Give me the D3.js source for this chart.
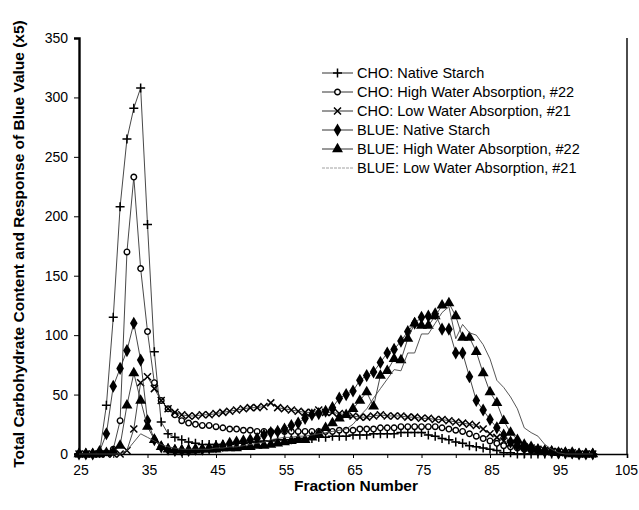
<!DOCTYPE html>
<html>
<head>
<meta charset="utf-8">
<script src="https://cdn.jsdelivr.net/npm/d3@7"></script>
<style>
  body { margin: 0; background: #fff; }
  svg { display: block; font-family: "Liberation Sans", Arial, sans-serif; }
</style>
</head>
<body>
<svg id="chart" width="639" height="510"></svg>
<script>
// fraction numbers (x)
const fractions = [25,26,27,28,29,30,31,32,33,34,35,36,37,38,39,40,41,42,43,44,45,46,47,48,49,50,
  51,52,53,54,55,56,57,58,59,60,61,62,63,64,65,66,67,68,69,70,71,72,73,74,75,76,77,78,79,80,
  81,82,83,84,85,86,87,88,89,90,91,92,93,94,95,96,97,98,99,100];

const choNative = [0,0,0,1,41,115,208,265,291,308,193,86,27,17,14,12,10,9,8,8,8,8,8,9,9,10,
  10,11,11,12,12,12,13,13,13,14,14,15,15,15,16,16,16,17,17,17,17,18,18,18,18,16,15,13,12,10,
  9,7,6,5,4,3,1,1,0,0,0,0,0,0,0,0,0,0,0,0];
const choHigh = [0,0,0,0,1,4,28,170,233,156,103,60,45,38,33,28,26,25,24,24,23,22,21,21,20,20,
  19,19,19,19,19,19,19,19,19,19,19,19,20,20,20,21,21,21,22,22,22,23,23,23,23,23,23,22,21,20,
  19,17,15,13,11,9,7,6,5,4,3,2,2,1,1,1,1,0,0,0];
const choLow = [0,0,0,0,0,0,0,3,21,60,65,55,45,38,35,33,32,32,33,33,34,35,36,37,38,39,
  39,40,43,39,38,37,36,35,35,37,35,35,34,33,32,31,31,32,33,32,32,32,31,31,30,30,29,29,28,27,
  26,25,24,21,17,14,11,9,7,6,5,4,3,2,2,1,1,0,0,0];
const blueNative = [0,0,0,2,17,57,72,87,110,79,28,12,6,4,3,3,3,4,4,5,6,7,9,10,11,12,
  13,16,18,19,21,24,26,30,33,34,36,39,47,50,53,62,66,69,77,85,88,95,103,110,115,116,118,105,105,85,
  85,65,45,37,29,22,16,10,7,5,4,3,2,2,1,1,1,0,0,0];
const blueHigh = [0,0,0,0,1,2,7,41,68,45,23,12,6,4,3,3,3,3,4,4,4,5,5,5,6,6,
  7,7,8,9,10,11,12,12,14,17,22,26,30,33,38,45,52,40,66,70,80,79,97,110,108,108,116,125,127,116,
  98,98,86,68,52,43,28,18,12,8,6,4,3,2,1,1,0,0,0,0];
const blueLow = [0,0,0,0,0,0,0,3,10,17,14,11,8,6,5,4,4,4,4,4,5,5,6,6,7,8,
  9,10,12,13,14,14,15,15,16,17,18,19,20,21,25,32,38,47,55,63,71,70,85,85,101,101,110,119,124,97,
  109,102,100,92,80,62,56,48,38,22,18,15,8,4,1,0,0,0,0,0];

const seriesNames = ["CHO: Native Starch", "CHO: High Water Absorption, #22", "CHO: Low Water Absorption, #21",
  "BLUE: Native Starch", "BLUE: High Water Absorption, #22", "BLUE: Low Water Absorption, #21"];
const seriesValues = [choNative, choHigh, choLow, blueNative, blueHigh, blueLow];
const markerKinds = ["plus", "circle", "cross", "diamond", "triangle", "none"];

const yTicks = [0,50,100,150,200,250,300,350];
const xTickLabels = [25,35,45,55,65,75,85,95,105];
const xMinorTicks = [25,30,35,40,45,50,55,60,65,70,75,80,85,90,95,100,105];

const svg = d3.select("#chart");
const m = { left: 79, right: 627, top: 38, bottom: 454 };

const x = d3.scaleLinear().domain([25, 105]).range([m.left, m.right]);
const y = d3.scaleLinear().domain([0, 350]).range([m.bottom, m.top]);

// plot frame (right side)
svg.append("path")
  .attr("d", `M${m.right},${m.top}V${m.bottom}`)
  .attr("fill", "none").attr("stroke", "#000").attr("stroke-width", 1.4);

// y axis
const yAxis = svg.append("g")
  .attr("transform", `translate(${m.left},0)`)
  .call(d3.axisLeft(y).tickValues(yTicks).tickSize(5).tickPadding(6));
yAxis.select(".domain").attr("stroke-width", 2.4);
yAxis.selectAll("text").attr("font-size", 14).attr("fill", "#000");

// x axis
const xAxis = svg.append("g")
  .attr("transform", `translate(0,${m.bottom})`)
  .call(d3.axisBottom(x).tickValues(xMinorTicks).tickSize(4).tickFormat(""));
xAxis.select(".domain").attr("stroke-width", 1.6);
const lastLabel = xTickLabels[xTickLabels.length - 1];
svg.append("g").selectAll("text")
  .data(xTickLabels)
  .join("text")
  .attr("x", d => d === lastLabel ? 638 : x(d) + 2)
  .attr("y", 475)
  .attr("text-anchor", d => d === lastLabel ? "end" : "middle")
  .attr("font-size", 14)
  .text(d => d);

// axis titles
svg.append("text")
  .attr("x", 356).attr("y", 491)
  .attr("text-anchor", "middle")
  .attr("font-size", 15.5).attr("font-weight", "bold")
  .text("Fraction Number");
svg.append("text")
  .attr("transform", "translate(24,244) rotate(-90)")
  .attr("text-anchor", "middle")
  .attr("font-size", 15.5).attr("font-weight", "bold")
  .attr("fill", "#000")
  .text("Total Carbohydrate Content and Response of Blue Value (x5)");

// markers
function drawMarker(g, kind) {
  if (kind === "plus") {
    g.append("path").attr("d", "M-4.5,0H4.5M0,-4.5V4.5").attr("stroke", "#000").attr("stroke-width", 1.5);
  } else if (kind === "cross") {
    g.append("path").attr("d", "M-3.5,-3.5L3.5,3.5M-3.5,3.5L3.5,-3.5").attr("stroke", "#000").attr("stroke-width", 1.5);
  } else if (kind === "circle") {
    g.append("circle").attr("r", 2.8).attr("fill", "#fff").attr("stroke", "#000").attr("stroke-width", 1.4);
  } else if (kind === "diamond") {
    g.append("path").attr("d", d3.symbol(d3.symbolDiamond, 50)()).attr("fill", "#000");
  } else if (kind === "triangle") {
    g.append("path").attr("d", d3.symbol(d3.symbolTriangle, 52)()).attr("fill", "#000");
  }
}

const line = d3.line().x(d => x(d[0])).y(d => y(d[1]));

seriesValues.forEach((vals, i) => {
  const pts = fractions.map((f, j) => [f, vals[j]]);
  const g = svg.append("g").attr("class", "series");
  g.append("path")
    .attr("d", line(pts))
    .attr("fill", "none")
    .attr("stroke", i === 5 ? "#444" : "#333")
    .attr("stroke-width", 0.9);
  if (markerKinds[i] !== "none") {
    g.selectAll("g.pt")
      .data(pts)
      .join("g")
      .attr("class", "pt")
      .attr("transform", d => `translate(${x(d[0])},${y(d[1])})`)
      .each(function () { drawMarker(d3.select(this), markerKinds[i]); });
  }
});

// legend
const legend = svg.append("g").attr("transform", "translate(322,73)");
seriesNames.forEach((name, i) => {
  const row = legend.append("g").attr("transform", `translate(0,${i * 19})`);
  row.append("line").attr("x1", 0).attr("x2", 31).attr("y1", 0).attr("y2", 0)
    .attr("stroke", i === 5 ? "#888" : "#333").attr("stroke-width", i === 5 ? 0.8 : 1)
    .attr("stroke-dasharray", i === 5 ? "3,1" : null);
  const mk = row.append("g").attr("transform", "translate(15.5,0)");
  drawMarker(mk, markerKinds[i]);
  row.append("text").attr("x", 35).attr("y", 5).attr("font-size", 14.5).text(name);
});
</script>
</body>
</html>
